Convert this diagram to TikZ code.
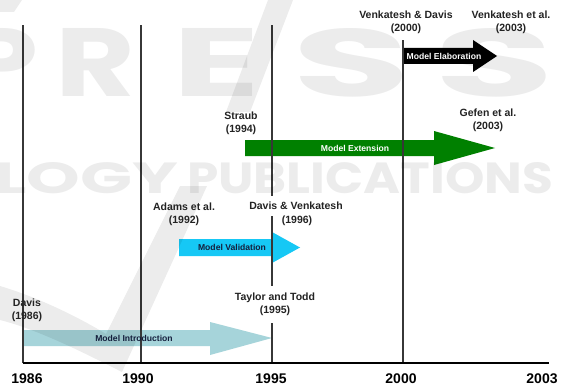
\documentclass[tikz,border=0pt]{standalone}
\usepackage{fontspec}
\setmainfont{Liberation Sans}
\newfontfamily\markfont{Poppins}
\definecolor{introfill}{RGB}{166,212,218}
\definecolor{validfill}{RGB}{22,200,245}
\definecolor{extfill}{RGB}{0,128,0}
\definecolor{gridgray}{RGB}{55,55,55}
\definecolor{navytext}{RGB}{20,30,60}
\definecolor{reftext}{RGB}{35,35,35}
\tikzset{
  ref/.style={font=\bfseries\fontsize{10.5}{13}\selectfont, text=reftext, align=center, inner sep=0pt},
  refbox/.style={ref, fill=white, inner xsep=2pt, inner ysep=6pt},
  yearlabel/.style={font=\bfseries\fontsize{14}{16}\selectfont, inner sep=0pt},
  phase/.style={font=\bfseries\fontsize{8.6}{10}\selectfont, inner sep=0pt},
  gridline/.style={draw=gridgray, line width=1.2pt},
  axisline/.style={draw=black, line width=2pt},
  markfill/.style={fill=black, fill opacity=0.075},
  markshade/.style={text=black, text opacity=0.075, inner sep=0pt, anchor=north west}
}
\begin{document}
\begin{tikzpicture}[x=1pt, y=-1pt]
\useasboundingbox (0,0) rectangle (561,385);
\fill[white] (0,0) rectangle (561,385);

% phase arrows: body half-height 8, head half-height about 16
\fill[introfill] (23,330) -- (210,330) -- (210,322) -- (272,338) -- (210,355) -- (210,346) -- (23,346) -- cycle;
\fill[validfill] (179,239) -- (272,239) -- (272,232) -- (300,247.5) -- (272,263) -- (272,256) -- (179,256) -- cycle;
\fill[extfill] (245,140) -- (434,140) -- (434,131) -- (495,148) -- (434,165) -- (434,156) -- (245,156) -- cycle;
\fill[black] (403,48) -- (473,48) -- (473,40) -- (497,56) -- (473,72) -- (473,64) -- (403,64) -- cycle;

% time axis and year grid lines
\coordinate (t86) at (23,363);
\coordinate (t90) at (141,363);
\coordinate (t95) at (272,363);
\coordinate (t00) at (403,363);
\coordinate (t03) at (549,363);
\draw[gridline] (t86) -- ++(0,-338);
\draw[gridline] (t90) -- ++(0,-338);
\draw[gridline] (t95) -- ++(0,-338);
\draw[gridline] (t00) -- ++(0,-323);
\draw[axisline] (t86) -- (t03);

% faint publisher mark in the background
\fill[markfill] (180,186) -- (207,186) -- (122,372)
  .. controls (90,356) and (40,330) .. (0,320) -- (0,286)
  .. controls (40,298) and (80,318) .. (106,334) -- cycle;
\fill[markfill] (268,0) -- (293,0) -- (250,112) -- (226,112) -- cycle;
\fill[markfill] (0,0) -- (22,0) -- (14,12) -- (0,12) -- cycle;
\node[markshade] (wmP) at (-40,28) {\resizebox{78pt}{68pt}{\markfont\bfseries P}};
\node[markshade] (wmR) at (55,28) {\resizebox{80pt}{68pt}{\markfont\bfseries R}};
\node[markshade] (wmE) at (172,28) {\resizebox{88pt}{68pt}{\markfont\bfseries E}};
\node[markshade] (wmS1) at (292,28) {\resizebox{118pt}{68pt}{\markfont\bfseries S}};
\node[markshade] (wmS2) at (434,28) {\resizebox{120pt}{68pt}{\markfont\bfseries S}};
\node[markshade] (wmLogy) at (-6,162) {\resizebox{184pt}{31pt}{\markfont\bfseries LOGY}};
\node[markshade] (wmPub) at (187,162) {\resizebox{366pt}{31pt}{\markfont\bfseries PUBLICATIONS}};

% phase names
\node[phase, text=navytext] (intro) at (134,338) {Model Introduction};
\node[phase, text=navytext] (valid) at (232,247.5) {Model Validation};
\node[phase, text=white] (ext) at (355,148) {Model Extension};
\node[phase, text=white] (elab) at (444,56) {Model Elaboration};

% studies
\node[ref] (davis86) at (27,310) {Davis\\(1986)};
\node[ref] (adams92) at (184,214.5) {Adams et al.\\(1992)};
\node[ref] (straub94) at (241,123) {Straub\\(1994)};
\node[refbox, inner ysep=7pt] (taylor95) at (275,304.5) {Taylor and Todd\\(1995)};
\node[refbox] (davis96) at (296,206) {Davis \& Venkatesh};
\node[ref] (davis96y) at (297,221) {(1996)};
\node[ref] (venk00) at (406,22.5) {Venkatesh \& Davis\\(2000)};
\node[ref] (venk03) at (511,22.5) {Venkatesh et al.\\(2003)};
\node[ref] (gefen03) at (488,120) {Gefen et al.\\(2003)};

% years along the axis
\node[yearlabel] (y86) at (27,379) {1986};
\node[yearlabel] (y90) at (138,379) {1990};
\node[yearlabel] (y95) at (271,379) {1995};
\node[yearlabel] (y00) at (401,379) {2000};
\node[yearlabel] (y03) at (542,379) {2003};
\end{tikzpicture}
\end{document}
